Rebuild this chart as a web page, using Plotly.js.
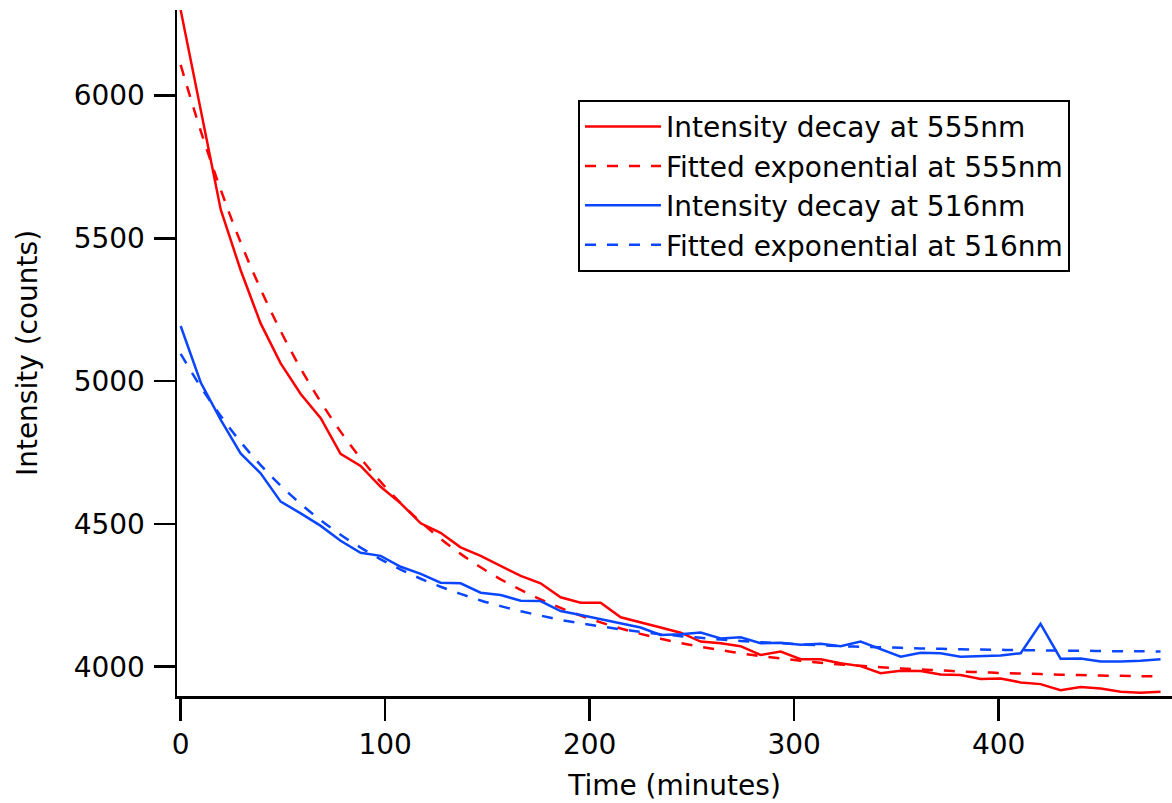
<!DOCTYPE html>
<html>
<head>
<meta charset="utf-8">
<script src="https://cdn.plot.ly/plotly-3.0.1.min.js"></script>
<style>html,body{margin:0;padding:0;background:#fff;}#chart{width:1172px;height:803px;}</style>
</head>
<body>
<div id="chart"></div>
<script>
// Time (minutes)
const timeMin = [0, 9.8, 19.6, 29.3, 39.1, 48.9, 58.7, 68.5, 78.2, 88.0,
  97.8, 107.6, 117.4, 127.1, 136.9, 146.7, 156.5, 166.3, 176.0, 185.8,
  195.6, 205.4, 215.2, 224.9, 234.7, 244.5, 254.3, 264.1, 273.8, 283.6,
  293.4, 303.2, 313.0, 322.7, 332.5, 342.3, 352.1, 361.9, 371.6, 381.4,
  391.2, 401.0, 410.8, 420.5, 430.3, 440.1, 449.9, 459.7, 469.4, 479.2];

// Intensity decay at 555nm (counts)
const decay555 = [6299, 5950, 5600, 5389, 5202, 5062, 4955, 4870, 4745, 4703,
  4630, 4572, 4502, 4469, 4418, 4388, 4353, 4318, 4292, 4243,
  4224, 4224, 4173, 4154, 4137, 4119, 4088, 4082, 4072, 4041,
  4053, 4026, 4026, 4012, 4002, 3977, 3986, 3985, 3973, 3971,
  3957, 3959, 3945, 3939, 3918, 3929, 3924, 3912, 3909, 3912];

// Fitted exponential at 555nm
const fit555 = [6107, 5876, 5670, 5486, 5322, 5175, 5044, 4927, 4823, 4730,
  4647, 4573, 4507, 4448, 4395, 4348, 4306, 4269, 4236, 4206,
  4179, 4155, 4134, 4115, 4098, 4083, 4070, 4058, 4047, 4037,
  4029, 4021, 4014, 4008, 4003, 3998, 3994, 3990, 3987, 3983,
  3981, 3978, 3976, 3974, 3972, 3971, 3969, 3968, 3967, 3966];

// Intensity decay at 516nm (counts)
const decay516 = [5193, 4995, 4864, 4747, 4677, 4578, 4537, 4493, 4441, 4399,
  4388, 4350, 4325, 4294, 4292, 4259, 4251, 4231, 4230, 4195,
  4181, 4166, 4152, 4137, 4111, 4114, 4120, 4099, 4103, 4082,
  4084, 4077, 4080, 4072, 4088, 4061, 4035, 4049, 4047, 4035,
  4037, 4039, 4047, 4150, 4028, 4029, 4018, 4018, 4021, 4026];

// Fitted exponential at 516nm
const fit516 = [5095, 4980, 4878, 4787, 4706, 4634, 4570, 4513, 4462, 4417,
  4376, 4340, 4308, 4280, 4255, 4232, 4212, 4194, 4179, 4164,
  4152, 4141, 4131, 4122, 4114, 4107, 4101, 4095, 4090, 4086,
  4082, 4078, 4075, 4072, 4070, 4068, 4066, 4064, 4063, 4061,
  4060, 4059, 4058, 4057, 4056, 4056, 4055, 4054, 4054, 4053];

const seriesNames = ["Intensity decay at 555nm", "Fitted exponential at 555nm",
  "Intensity decay at 516nm", "Fitted exponential at 516nm"];
const yTickVals = [4000, 4500, 5000, 5500, 6000];
const xTickVals = [0, 100, 200, 300, 400];

const RED = "#ff0000";
const BLUE = "#0a46ff";
const FONT = "DejaVu Sans";
const FS = 28;
const DASH = "11px,11px";

const traces = [
  {x: timeMin, y: decay555, name: seriesNames[0], mode: "lines",
   line: {color: RED, width: 2.5}},
  {x: timeMin, y: fit555, name: seriesNames[1], mode: "lines",
   line: {color: RED, width: 2.5, dash: DASH, shape: "spline"}},
  {x: timeMin, y: decay516, name: seriesNames[2], mode: "lines",
   line: {color: BLUE, width: 2.5}},
  {x: timeMin, y: fit516, name: seriesNames[3], mode: "lines",
   line: {color: BLUE, width: 2.5, dash: DASH, shape: "spline"}}
];

const layout = {
  width: 1172, height: 803,
  margin: {l: 177, r: 0, t: 10, b: 107, pad: 0},
  paper_bgcolor: "#ffffff", plot_bgcolor: "#ffffff",
  font: {family: FONT, size: FS, color: "#000"},
  showlegend: true,
  legend: {
    x: 0.403, y: 0.869, xanchor: "left", yanchor: "top",
    bordercolor: "#000", borderwidth: 2, bgcolor: "#fff",
    font: {family: FONT, size: FS, color: "#000"},
    traceorder: "normal", itemwidth: 76
  },
  xaxis: {
    range: [-1.8, 484.8], tickvals: xTickVals, ticktext: xTickVals.map(String),
    showgrid: false, zeroline: false, showline: true, linecolor: "#000", linewidth: 2.5,
    ticks: "outside", ticklen: 22, tickwidth: 2.5, tickcolor: "#000",
    tickfont: {family: FONT, size: FS, color: "#000"},
    title: {text: "Time (minutes)", font: {family: FONT, size: FS, color: "#000"}, standoff: 16}
  },
  yaxis: {
    range: [3897.4, 6299.4], tickvals: yTickVals, ticktext: yTickVals.map(String),
    showgrid: false, zeroline: false, showline: true, linecolor: "#000", linewidth: 2.5,
    ticks: "outside", ticklen: 21, tickwidth: 2.5, tickcolor: "#000",
    ticklabelstandoff: 3,
    tickfont: {family: FONT, size: FS, color: "#000"},
    title: {text: "Intensity (counts)", font: {family: FONT, size: FS, color: "#000"}, standoff: 28}
  }
};

Plotly.newPlot("chart", traces, layout, {displayModeBar: false, staticPlot: true});
</script>
</body>
</html>
